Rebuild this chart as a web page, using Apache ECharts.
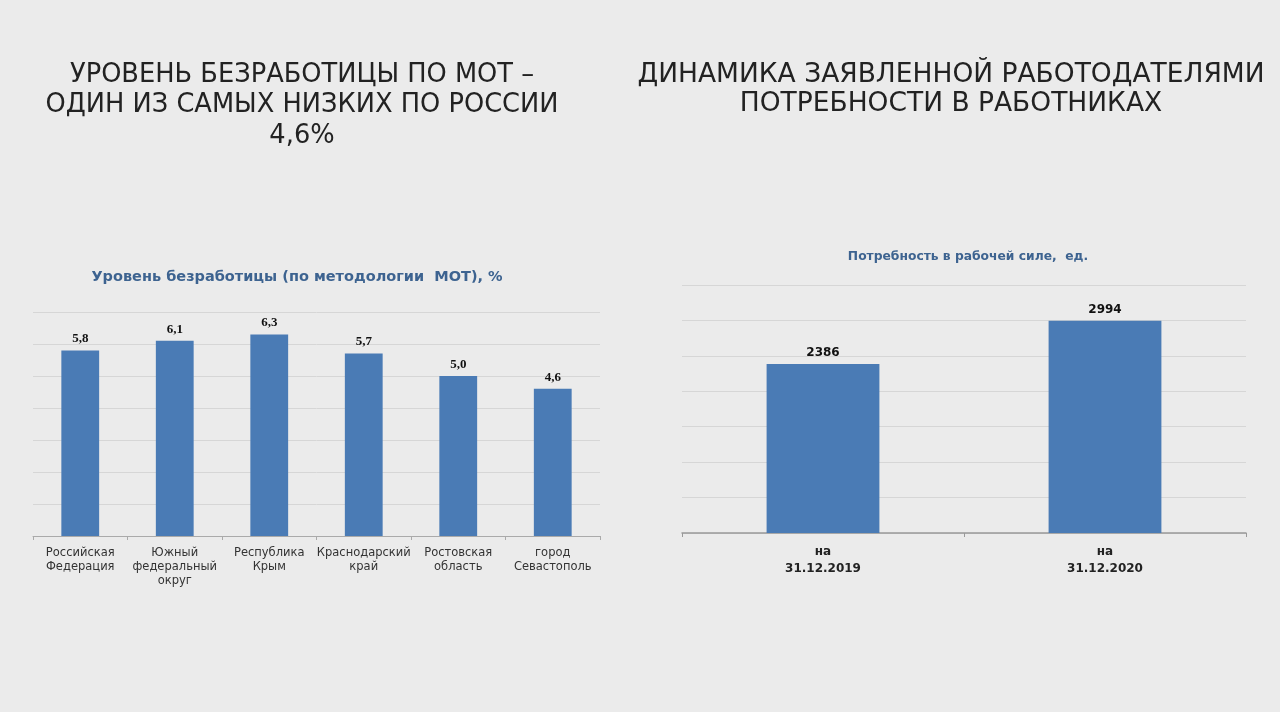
<!DOCTYPE html>
<html><head><meta charset="utf-8">
<script src="https://cdn.jsdelivr.net/npm/echarts@6/dist/echarts.min.js"></script>
<style>html,body{margin:0;padding:0;background:#ebebeb;}#c{width:1280px;height:712px;}</style>
</head><body><div id="c"></div>
<script>
const leftCategories = ['Российская\nФедерация', 'Южный\nфедеральный\nокруг', 'Республика\nКрым', 'Краснодарский\nкрай', 'Ростовская\nобласть', 'город\nСевастополь'];
const leftValues = [5.8, 6.1, 6.3, 5.7, 5.0, 4.6];
const rightCategories = ['на\n31.12.2019', 'на\n31.12.2020'];
const rightValues = [2386, 2994];
const leftHeading = 'УРОВЕНЬ БЕЗРАБОТИЦЫ ПО МОТ –\nОДИН ИЗ САМЫХ НИЗКИХ ПО РОССИИ\n4,6%';
const rightHeading = 'ДИНАМИКА ЗАЯВЛЕННОЙ РАБОТОДАТЕЛЯМИ\nПОТРЕБНОСТИ В РАБОТНИКАХ';
const leftTitle = 'Уровень безработицы (по методологии  МОТ), %';
const rightTitle = 'Потребность в рабочей силе,  ед.';

const chart = echarts.init(document.getElementById('c'));
const barColor = '#4a7bb5';
const gridLine = {show: true, lineStyle: {color: '#d6d6d6', width: 1}};
chart.setOption({
  backgroundColor: '#ebebeb',
  animation: false,
  title: [
    {text: leftHeading, left: 297, top: 55, textAlign: 'center',
     textStyle: {fontFamily: 'DejaVu Sans', fontSize: 25.7, fontWeight: 'normal', color: '#222', lineHeight: 30.5}},
    {text: rightHeading, left: 946, top: 56, textAlign: 'center',
     textStyle: {fontFamily: 'DejaVu Sans', fontSize: 26.5, fontWeight: 'normal', color: '#222', lineHeight: 29}},
    {text: leftTitle, left: 292, top: 265, textAlign: 'center',
     textStyle: {fontFamily: 'DejaVu Sans', fontSize: 14.5, fontWeight: 'bold', color: '#3d6390'}},
    {text: rightTitle, left: 963, top: 246, textAlign: 'center',
     textStyle: {fontFamily: 'DejaVu Sans', fontSize: 12.3, fontWeight: 'bold', color: '#3d6390'}}
  ],
  grid: [
    {left: 33, right: 680, top: 312, bottom: 176},
    {left: 682, right: 34, top: 285, bottom: 179}
  ],
  xAxis: [
    {type: 'category', gridIndex: 0, data: leftCategories,
     axisLine: {lineStyle: {color: '#aaaaaa'}}, axisTick: {show: true, length: 4, lineStyle: {color: '#aaaaaa'}},
     axisLabel: {color: '#333', fontFamily: 'DejaVu Sans', fontSize: 11.5, lineHeight: 14, margin: 10, interval: 0}},
    {type: 'category', gridIndex: 1, data: rightCategories,
     axisLine: {lineStyle: {color: '#999999', width: 1.5}}, axisTick: {show: true, length: 4, lineStyle: {color: '#999999'}},
     axisLabel: {color: '#222', fontFamily: 'DejaVu Sans', fontWeight: 'bold', fontSize: 12, lineHeight: 17, margin: 10, interval: 0}}
  ],
  yAxis: [
    {type: 'value', gridIndex: 0, min: 0, max: 7, interval: 1,
     axisLabel: {show: false}, axisLine: {show: false}, axisTick: {show: false}, splitLine: gridLine},
    {type: 'value', gridIndex: 1, min: 0, max: 3500, interval: 500,
     axisLabel: {show: false}, axisLine: {show: false}, axisTick: {show: false}, splitLine: gridLine}
  ],
  series: [
    {type: 'bar', xAxisIndex: 0, yAxisIndex: 0, data: leftValues, barWidth: '40%',
     itemStyle: {color: barColor},
     label: {show: true, position: 'top', distance: 5, color: '#111', fontFamily: 'Liberation Serif', fontWeight: 'bold', fontSize: 13,
       formatter: p => p.value.toFixed(1).replace('.', ',')}},
    {type: 'bar', xAxisIndex: 1, yAxisIndex: 1, data: rightValues, barWidth: '40%',
     itemStyle: {color: barColor},
     label: {show: true, position: 'top', distance: 5, color: '#111', fontFamily: 'DejaVu Sans', fontWeight: 'bold', fontSize: 12}}
  ]
});
</script></body></html>
